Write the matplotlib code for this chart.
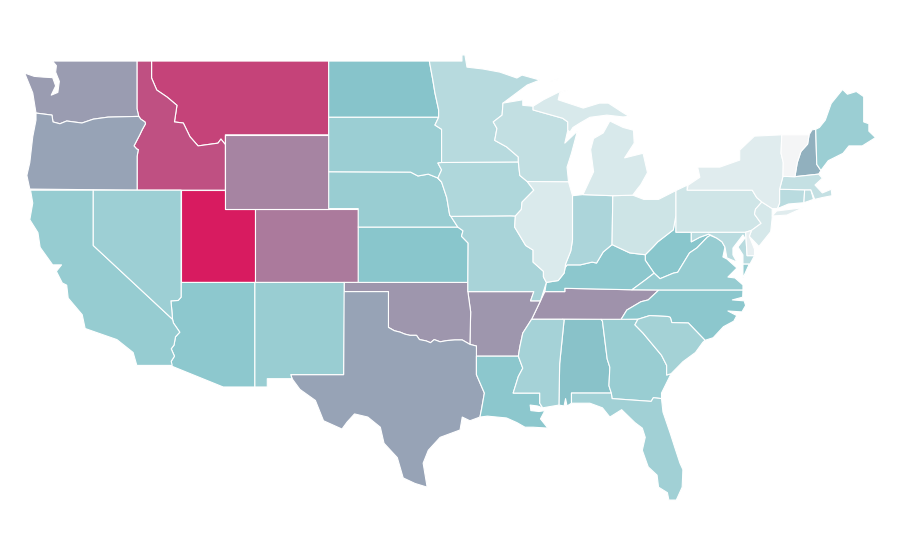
import matplotlib
matplotlib.use("Agg")
import matplotlib.pyplot as plt
from matplotlib.collections import PolyCollection
from matplotlib.colors import LinearSegmentedColormap, Normalize

# shared borders, lon/lat
COLUMBIA = [(-123.88,46.18),(-122.8,46.07),(-122.73,45.7),(-122.26,45.6),(-121.8,45.75),(-120.77,45.64),(-120.0,45.85),(-119.0,45.96),(-116.92,46.0)]
SNAKE = [(-116.92,46.0),(-116.78,45.85),(-116.5,45.7),(-116.46,45.6),(-116.67,45.3),(-116.85,45.0),(-117.24,44.4),(-117.05,44.23),(-116.95,44.2),(-117.03,43.83),(-117.03,42.0)]
BITTERROOT = [(-116.05,49),(-116.05,48.08),(-115.7,47.43),(-115.0,47.05),(-114.33,46.6),(-114.5,45.7),(-113.9,45.64),(-113.45,44.9),(-112.9,44.4),(-111.55,44.55),(-111.35,44.77),(-111.05,44.47)]
COLORADO_R = [(-114.63,35),(-114.57,34.8),(-114.14,34.3),(-114.43,34.05),(-114.53,33.6),(-114.72,33.4),(-114.5,33.0),(-114.72,32.72)]
NV_AZ = [(-114.05,37),(-114.05,36.2),(-114.25,36.02),(-114.74,36.0),(-114.68,35.5),(-114.63,35)]
RED_R = [(-100,34.56),(-99.6,34.38),(-99.2,34.3),(-98.9,34.2),(-98.55,34.13),(-98.1,34.13),(-97.9,33.9),(-97.45,33.83),(-97.15,33.73),(-96.9,33.9),(-96.5,33.78),(-96.0,33.85),(-95.5,33.88),(-95.0,33.88),(-94.48,33.64)]
ND_MN = [(-97.23,49),(-97,48),(-96.85,47.27),(-96.6,46.35),(-96.6,45.95)]
SD_MN = [(-96.6,45.95),(-96.85,45.53),(-96.4,45.3),(-96.4,43.5)]
BIG_SIOUX = [(-96.4,43.5),(-96.65,43.47),(-96.4,43.1),(-96.65,42.66),(-96.4,42.44)]
MISSOURI = [(-96.4,42.44),(-96.05,41.6),(-95.85,40.65),(-95.77,40.58)]
KS_MO = [(-95.3,40),(-94.95,39.8),(-95.05,39.5),(-94.6,39.13),(-94.62,37)]
MISS_MN = [(-92.24,46.72),(-92.3,46.07),(-92.9,45.7),(-92.65,45.35),(-92.8,44.7),(-92,44.35),(-91.2,43.8),(-91.2,43.53)]
MISS_IA = [(-91.2,43.53),(-91.1,42.8),(-90.6,42.47),(-90.15,42),(-90.95,41.35),(-91.0,40.95),(-91.4,40.6)]
MISS_MO = [(-91.4,40.6),(-91.45,40),(-90.7,39.0),(-90.2,38.75),(-90.2,38.1),(-89.5,37.6),(-89.5,37.3),(-89.3,37.0)]
MISS_AR = [(-90.3,35),(-90.9,34.25),(-91.1,33.5),(-91.2,33)]
MISS_LA = [(-91.2,33),(-90.9,32.35),(-91.2,31.9),(-91.55,31),(-89.75,31),(-89.75,30.45),(-89.55,30.2)]
OHIO_R = [(-89.3,37.0),(-88.5,37.1),(-88.1,37.5),(-88.03,37.8),(-87.9,37.95),(-87.0,37.95),(-86.2,38.1),(-85.9,38.05),(-85.45,38.65),(-84.85,39.05)]
OHIO_E = [(-84.85,39.05),(-83.65,38.6),(-82.6,38.5)]
OHIO_WV = [(-82.6,38.5),(-82.1,38.9),(-81.75,39.2),(-80.7,39.85),(-80.52,40.64)]
WABASH = [(-87.53,41.7),(-87.53,39.3),(-87.65,38.7),(-88.0,38.0),(-88.03,37.8)]
WV_VA = [(-77.75,39.4),(-78.2,39.55),(-78.4,39.45),(-79.1,38.87),(-79.6,38.6),(-80.4,37.55),(-80.7,37.5),(-81.6,37.2),(-82,37.5)]
POTOMAC = [(-77.2,38.92),(-77.4,39.2),(-77.75,39.4),(-78.3,39.62),(-78.9,39.45),(-79.48,39.2)]
TN_NC = [(-81.68,36.59),(-82.4,36.05),(-82.9,35.95),(-83.85,35.5),(-84.25,34.98)]
NC_SC = [(-83.1,35),(-82.3,35.2),(-81.05,35.15),(-80.9,35.1),(-80.8,34.82),(-79.68,34.8),(-78.55,33.86)]
SAVANNAH = [(-83.1,35),(-83.3,34.7),(-82.75,34.25),(-81.5,33.05),(-81.15,32.5),(-81.15,31.98),(-80.85,32.05)]
AL_GA = [(-85.6,35),(-85.5,34.9),(-85.18,32.85),(-85.0,32.4),(-85.06,31.4),(-84.9,31)]
DELAWARE_R = [(-74.7,41.36),(-75.05,41.6),(-75.35,42)]
DEL_NJ = [(-75.4,39.82),(-74.75,40.2),(-75.2,40.7),(-75.13,40.97),(-74.7,41.36)]
CT_R = [(-71.5,45),(-71.6,44.5),(-72.05,44.1),(-72.3,43.5),(-72.46,42.73)]
WI_UP = [(-90.2,46.55),(-90.2,46.35),(-88.2,45.9),(-87.85,45.7),(-87.85,45.25)]


def rev(chain):
    return chain[::-1]


SHAPES = {
    "Washington": [[(-122.76,49),(-117.04,49),(-117.04,46.42)] + rev(COLUMBIA) + [(-124.1,47.27),(-124.65,48.35),(-124.0,48.17),(-123.4,48.13),(-122.75,48.1),(-122.55,47.65),(-122.85,47.15),(-122.4,47.3),(-122.3,47.9),(-122.55,48.4),(-122.5,48.75)]],
    "Oregon": [COLUMBIA + SNAKE + [(-124.3,42.06),(-124.5,42.8),(-124.3,43.5),(-124.1,44.9),(-123.88,45.8)]],
    "California": [[(-124.25,42),(-120,42),(-120,39),(-114.63,35)] + COLORADO_R[1:] + [(-114.65,32.5),(-117.05,32.5),(-117.3,33.2),(-118.4,33.9),(-119.3,34.15),(-120.55,34.5),(-120.75,35.25),(-121.7,36.15),(-121.8,36.85),(-122.1,36.97),(-122.5,37.6),(-122.15,37.95),(-122.75,37.95),(-123.6,38.9),(-123.75,39.7),(-124.3,40.4),(-124.1,41.3)]],
    "Nevada": [[(-120,42),(-114.05,42)] + NV_AZ + [(-120,39)]],
    "Idaho": [[(-117.04,49)] + BITTERROOT + [(-111.05,42)] + rev(SNAKE) + [(-117.04,46.42)]],
    "Montana": [[(-116.05,49),(-104.05,49),(-104.05,45),(-111.05,45)] + rev(BITTERROOT)[:-1]],
    "Wyoming": [[(-111.05,45),(-104.05,45),(-104.05,41),(-111.05,41)]],
    "Utah": [[(-114.05,42),(-111.05,42),(-111.05,41),(-109.05,41),(-109.05,37),(-114.05,37)]],
    "Colorado": [[(-109.05,41),(-102.05,41),(-102.05,37),(-109.05,37)]],
    "Arizona": [[(-114.05,37),(-109.05,37),(-109.05,31.33),(-111.2,31.33),(-114.81,32.5)] + rev(COLORADO_R) + rev(NV_AZ)[1:]],
    "New Mexico": [[(-109.05,37),(-103.0,37),(-103.04,32),(-106.62,32),(-106.53,31.78),(-108.21,31.78),(-108.21,31.33),(-109.05,31.33)]],
    "North Dakota": [[(-104.05,49)] + ND_MN + [(-104.05,45.95)]],
    "South Dakota": [[(-104.05,45.95)] + SD_MN + BIG_SIOUX[1:] + [(-96.65,42.66),(-97.3,42.87),(-98,42.77),(-98.5,42.98),(-104.05,43)]],
    "Nebraska": [[(-104.05,43),(-98.5,42.98),(-98,42.77),(-97.3,42.87),(-96.65,42.66)] + MISSOURI + [(-95.3,40),(-102.05,40),(-102.05,41),(-104.05,41)]],
    "Kansas": [[(-102.05,40)] + KS_MO + [(-102.05,37)]],
    "Oklahoma": [[(-103.0,37),(-94.62,37),(-94.62,36.5),(-94.43,35.4),(-94.48,33.64)] + rev(RED_R) + [(-100,36.5),(-103.0,36.5)]],
    "Texas": [[(-103.04,36.5),(-100,36.5)] + RED_R + [(-94.04,33.55),(-94.04,32),(-93.5,31),(-93.7,30.1),(-93.8,29.7),(-94.48,29.5),(-95.0,29.7),(-95.15,29.0),(-96.5,28.6),(-97.3,27.9),(-97.65,27.2),(-97.38,25.9),(-98.2,26.1),(-99.0,26.4),(-99.4,27.5),(-100.3,28.28),(-100.55,29.15),(-101.4,29.7),(-102.3,29.87),(-102.8,29.43),(-103.15,29.05),(-104.4,29.5),(-104.95,30.6),(-106.0,31.2),(-106.53,31.78),(-106.62,32),(-103.04,32)]],
    "Minnesota": [[(-97.23,49),(-95.02,49),(-95.02,49.33),(-94.82,49.33),(-94.68,48.67),(-93.6,48.57),(-92.45,48.4),(-91.3,48.08),(-90.95,48.24),(-89.74,47.97),(-90.6,47.7)] + MISS_MN + [(-96.4,43.5)] + rev(SD_MN)[1:] + rev(ND_MN)[1:]],
    "Iowa": [[(-96.4,43.5)] + MISS_IA + [(-91.73,40.61)] + rev(MISSOURI) + rev(BIG_SIOUX)[1:]],
    "Missouri": [[(-95.77,40.58),(-91.73,40.61)] + MISS_MO + [(-89.7,36.0),(-90.37,36.0),(-90.15,36.5),(-94.62,36.5)] + rev(KS_MO)[:-1] + [(-95.3,40)]],
    "Arkansas": [[(-94.62,36.5),(-90.15,36.5),(-90.37,36.0),(-89.7,36.0)] + MISS_AR + [(-94.04,33),(-94.04,33.55),(-94.48,33.64),(-94.43,35.4)]],
    "Louisiana": [[(-94.04,33)] + MISS_LA + [(-89.9,30.3),(-90.4,30.35),(-90.35,30.05),(-89.8,30.0),(-89.4,30.05),(-89.7,29.6),(-89.2,29.1),(-90.2,29.15),(-90.75,29.15),(-91.3,29.4),(-92.0,29.65),(-93.3,29.75),(-93.8,29.7),(-93.7,30.1),(-93.5,31),(-94.04,32)]],
    "Wisconsin": [[(-92.24,46.72),(-90.9,46.9),(-90.9,46.6)] + WI_UP + [(-88.05,44.55),(-87.2,45.2),(-87.6,44),(-87.9,43.25),(-87.8,42.45),(-90.6,42.47),(-91.1,42.8)] + rev(MISS_MN)[:-1]],
    "Illinois": [[(-90.6,42.47),(-87.8,42.45)] + WABASH + [(-88.1,37.5),(-88.5,37.1)] + rev(MISS_MO) + [(-91.0,40.95),(-90.95,41.35),(-90.15,42)]],
    "Michigan": [
        [(-86.82,41.76),(-86.1,43),(-86.3,44.2),(-86.1,44.8),(-85.45,45.1),(-85,45.75),(-84.1,45.4),(-83.4,45.25),(-83.35,44.55),(-84,43.75),(-82.75,44),(-82.45,42.95),(-82.9,42.3),(-83.15,42.05),(-83.45,41.73),(-84.8,41.7)],
        rev(WI_UP) + [(-89.5,46.9),(-88.5,47.3),(-87.85,47.43),(-88.4,47.25),(-88.5,46.9),(-86.8,46.45),(-85.7,46.72),(-85.1,46.72),(-84.2,46.25),(-83.7,46),(-84.1,45.97),(-85.2,46.07),(-86.35,45.95),(-87.0,45.65),(-87.5,45.4),(-87.7,45.15)],
        [(-89.0,47.9),(-88.5,48.05),(-88.6,47.95)],
    ],
    "Indiana": [[(-87.53,41.7),(-86.82,41.76),(-84.8,41.7)] + rev(OHIO_R)[:-3] + rev(WABASH)[1:-1]],
    "Ohio": [[(-84.8,41.7),(-83.45,41.73),(-82.7,41.5),(-81.7,41.5),(-80.52,41.98)] + rev(OHIO_WV) + rev(OHIO_E)[1:]],
    "Kentucky": [[(-89.4,36.5)] + OHIO_R + OHIO_E[1:] + [(-82.6,38.2),(-82,37.5),(-82.6,37.13),(-83.5,36.6),(-88.05,36.68),(-88.05,36.5)]],
    "Tennessee": [[(-90.3,35),(-89.7,36),(-89.4,36.5),(-88.05,36.5),(-88.05,36.68),(-83.5,36.6)] + TN_NC + [(-88.2,35)]],
    "Mississippi": [[(-90.3,35),(-88.2,35),(-88.1,34.96),(-88.4,32.6),(-88.45,30.35),(-89.55,30.2),(-89.75,30.45),(-89.75,31),(-91.55,31),(-91.2,31.9),(-90.9,32.35),(-91.2,33),(-91.1,33.5),(-90.9,34.25)]],
    "Alabama": [[(-88.2,35)] + AL_GA + [(-87.6,31),(-87.6,30.45),(-87.9,30.3),(-88.0,30.7),(-88.1,30.3),(-88.45,30.35),(-88.4,32.6),(-88.1,34.96)]],
    "Georgia": [AL_GA[:1] + [(-83.1,35)] + SAVANNAH[1:] + [(-81.5,31),(-81.5,30.7),(-82.05,30.75),(-82.2,30.55),(-84.85,30.7)] + rev(AL_GA)[:-1]],
    "Florida": [[(-87.6,31),(-84.9,31),(-84.85,30.7),(-82.2,30.55),(-82.05,30.75),(-81.5,30.7),(-81.4,29.97),(-80.9,28.8),(-80.6,28.05),(-80.25,27.2),(-80.05,26.85),(-80.1,25.9),(-80.4,25.37),(-80.5,25.2),(-81,25.2),(-81.1,25.6),(-81.7,25.9),(-81.8,26.55),(-82.4,27),(-82.8,27.9),(-82.6,28.6),(-82.8,29.1),(-83.3,29.4),(-84.2,30.1),(-85,29.7),(-85.5,30.2),(-86.35,30.45),(-87.6,30.45)]],
    "South Carolina": [SAVANNAH[:1] + NC_SC[1:] + [(-78.7,33.75),(-79.2,33.2),(-80.05,32.7)] + rev(SAVANNAH)[:-1]],
    "North Carolina": [[(-84.25,34.98)] + rev(TN_NC)[1:] + [(-75.98,36.59),(-76,36.2),(-76.7,36.05),(-75.9,36),(-75.8,35.75),(-76.05,35.4),(-77,35.45),(-76.4,35.2),(-76.6,34.9),(-77.3,34.6),(-78,34),(-78.55,33.86)] + rev(NC_SC)[1:]],
    "Virginia": [
        [(-83.5,36.6),(-82.6,37.13)] + rev(WV_VA) + [(-77.4,39.2),(-77.2,38.92),(-77.34,38.38),(-77.07,38.27),(-76.39,37.78),(-77.0,37.29),(-76.52,37.24),(-75.98,36.86),(-75.98,36.59),(-81.68,36.59)],
        [(-75.98,38.0),(-75.55,38.0),(-75.98,37.24)],
    ],
    "West Virginia": [[(-80.52,40.64),(-80.52,39.72),(-79.48,39.72),(-79.48,39.2),(-78.9,39.45),(-78.3,39.62)] + WV_VA + [(-82.6,38.2)] + OHIO_WV[:-1]],
    "Maryland": [[(-79.48,39.72),(-75.8,39.72),(-75.7,38.45),(-75.2,38.45),(-75.5,38.0),(-75.98,38.0),(-75.98,38.49),(-76.32,38.92),(-75.85,39.4),(-75.98,39.57),(-76.66,38.86),(-76.66,38.49),(-76.39,38.1),(-77.07,38.33)] + POTOMAC],
    "Delaware": [[(-75.8,39.72),(-75.4,39.82),(-75.55,39.5),(-75.2,38.8),(-75.2,38.45),(-75.7,38.45)]],
    "Pennsylvania": [[(-80.52,41.98),(-79.76,42.27),(-79.76,42)] + rev(DELAWARE_R) + rev(DEL_NJ)[1:] + [(-75.8,39.72),(-80.52,39.72)]],
    "New Jersey": [[(-74.7,41.36),(-74.0,41.0),(-74.0,40.5),(-74.1,39.75),(-74.9,38.95),(-75.55,39.5)] + DEL_NJ[:-1]],
    "New York": [
        [(-79.7,42.27),(-78.9,42.7),(-79.05,43.25),(-77.55,43.25),(-76.2,43.63),(-76.2,44.17),(-75.2,44.93),(-73.35,45.0),(-73.4,44),(-73.25,43.5),(-73.27,42.75),(-73.5,42.05),(-73.5,41.3),(-73.65,41.0),(-74.0,41.0)] + DELAWARE_R + [(-79.76,42)],
        [(-74.0,40.6),(-73.0,40.65),(-71.9,41.05),(-72.6,40.98),(-73.7,40.87)],
    ],
    "Vermont": [[(-73.35,45)] + CT_R + [(-73.27,42.75),(-73.25,43.5),(-73.4,44)]],
    "New Hampshire": [CT_R[:1] + [(-71.3,45.27),(-71.05,45.3),(-70.98,43.4),(-70.7,43.07),(-70.85,42.87)] + rev(CT_R)[:-1]],
    "Maine": [[(-71.05,45.3),(-70.8,45.4),(-70.4,45.8),(-70.0,46.7),(-69.23,47.46),(-68.9,47.2),(-68.3,47.35),(-67.8,47.07),(-67.8,45.7),(-67.45,45.6),(-67.45,45.2),(-67.0,44.85),(-67.9,44.4),(-68.8,44.4),(-69.2,44.0),(-70.2,43.6),(-70.7,43.07),(-70.98,43.4)]],
    "Massachusetts": [[(-73.5,42.05),(-73.27,42.75),(-72.46,42.73),(-70.85,42.87),(-70.6,42.65),(-71.1,42.28),(-70.6,41.85),(-70.0,42.05),(-69.95,41.7),(-70.6,41.6),(-71.12,41.5),(-71.38,42.02),(-71.8,42.02)]],
    "Connecticut": [[(-73.5,42.05),(-71.8,42.02),(-71.85,41.32),(-72.9,41.25),(-73.65,41.0),(-73.5,41.3)]],
    "Rhode Island": [[(-71.8,42.02),(-71.38,42.02),(-71.2,41.5),(-71.85,41.32)]],
}

STATES = ["Utah","Montana","Idaho","Colorado","Wyoming","Tennessee","Arkansas","Oklahoma","Washington","Oregon","Texas","New Hampshire",
          "Alabama","North Dakota","West Virginia","Kansas","Kentucky","North Carolina","Louisiana","Arizona","California","Virginia","New Mexico","Georgia","Nebraska",
          "South Dakota","Maine","Nevada","Florida","South Carolina","Mississippi","Missouri","Indiana","Iowa","Minnesota","Maryland","Connecticut","Rhode Island",
          "Wisconsin","Massachusetts","Ohio","Pennsylvania","New Jersey","Michigan","Illinois","New York","Delaware","Vermont"]
VALUES = [100,88,84,72,69,65,64,64,62,60,60,56,
          51,50,49,49,48,48,48,47,43,43,42,42,42,
          41,41,40,38,37,36,35,33,32,28,27,27,25,
          23,22,18,17,14,13,12,9,6,0]

cmap = LinearSegmentedColormap.from_list("teal_crimson", ["#f4f5f6", "#87c5cb", "#d81b60"])

polys, poly_values = [], []
for state, value in zip(STATES, VALUES):
    for part in SHAPES[state]:
        polys.append(part)
        poly_values.append(value)

fig = plt.figure(figsize=(9, 5.6), dpi=100)
ax = fig.add_axes([0, 0, 1, 1])
coll = PolyCollection(polys, array=poly_values, cmap=cmap, norm=Normalize(0, 100), edgecolors="white", linewidths=0.8)
ax.add_collection(coll)
ax.set_xlim(-126.32, -65.34)
ax.set_ylim(21.95, 52.31)
ax.axis("off")
fig.savefig("out.png", dpi=100)
plt.close(fig)
